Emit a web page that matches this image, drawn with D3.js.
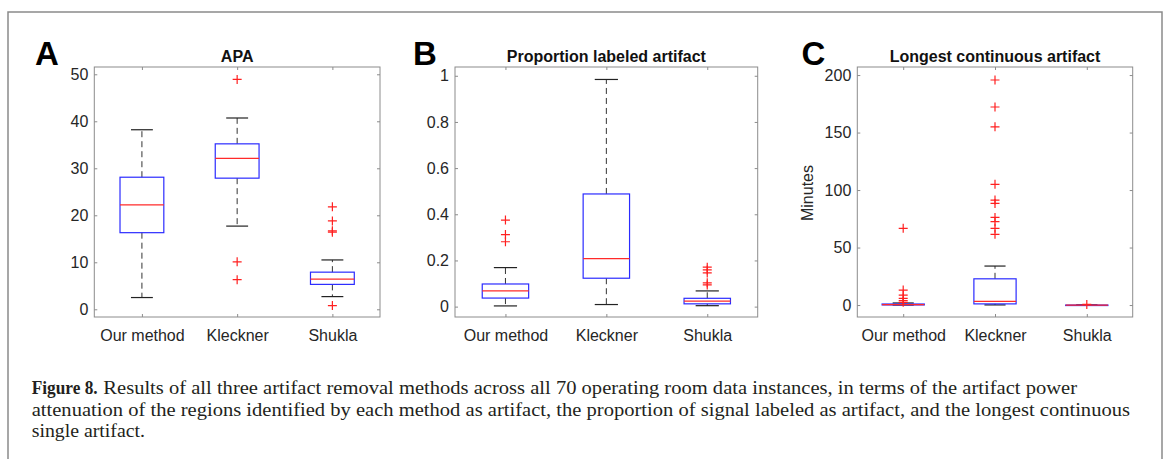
<!DOCTYPE html>
<html>
<head>
<meta charset="utf-8">
<script src="https://cdn.jsdelivr.net/npm/d3@7"></script>
<style>
  body { margin: 0; background: #fff; }
  svg { display: block; }
</style>
</head>
<body>
<script>
// Categories on every panel
const methods = ["Our method", "Kleckner", "Shukla"];

// Box stats per method: [lower whisker, q1, median, q3, upper whisker]
const apaBoxes = [[2.5, 16.3, 22.2, 28.1, 38.2], [17.7, 27.9, 32.1, 35.2, 40.7], [2.7, 5.3, 6.4, 7.9, 10.5]];
const apaOutliers = [[], [48.9, 10.1, 6.3], [21.8, 18.8, 16.7, 16.4, 0.8]];
const apaTicks = [0, 10, 20, 30, 40, 50];

const propBoxes = [[0.003, 0.037, 0.068, 0.098, 0.169], [0.009, 0.123, 0.208, 0.488, 0.984], [0.004, 0.012, 0.024, 0.036, 0.068]];
const propOutliers = [[0.375, 0.312, 0.281], [], [0.171, 0.159, 0.146, 0.103, 0.094]];
const propTicks = [0, 0.2, 0.4, 0.6, 0.8, 1];

const minuteBoxes = [[0, 0.1, 0.4, 0.9, 1.8], [0.1, 1.0, 3.2, 22.8, 33.9], [0, 0, 0, 0, 0]];
const minuteOutliers = [[66.7, 13, 8.7, 5.8, 3.8, 2.4], [195.7, 172.2, 155, 105, 91.3, 88.4, 76.2, 72.5, 66.7, 61.5], [0.5]];
const minuteTicks = [0, 50, 100, 150, 200];

const captionBold = "Figure 8.";
const captionLines = [
    "Results of all three artifact removal methods across all 70 operating room data instances, in terms of the artifact power",
    "attenuation of the regions identified by each method as artifact, the proportion of signal labeled as artifact, and the longest continuous",
    "single artifact."
];

var width = 1170, height = 459;
var axTop = 67, axBottom = 317;
var font = "'Liberation Sans', Arial, sans-serif";

var svg = d3.select("body").append("svg")
    .attr("width", width)
    .attr("height", height);

svg.append("rect").attr("width", width).attr("height", height).style("fill", "#fff");

// outer figure frame (open at the bottom)
svg.append("path")
    .attr("d", "M8," + height + "V12H1162V" + height)
    .style("fill", "none")
    .style("stroke", "#8a8a8a")
    .style("stroke-width", 1.5);

function drawPanel(p) {
    var g = svg.append("g");

    var x = d3.scaleLinear().domain([0.5, 3.5]).range([p.x0, p.x1]);
    var y = d3.scaleLinear().domain(p.yDomain).range([axBottom, axTop]);
    var bw = x(1.23) - x(1);   // half box width
    var cw = bw / 2;           // half cap width

    // axes box
    g.append("rect")
        .attr("x", p.x0).attr("y", axTop)
        .attr("width", p.x1 - p.x0).attr("height", axBottom - axTop)
        .style("fill", "none").style("stroke", "#8c8c8c").style("stroke-width", 1);

    // ticks on all four sides, inward
    g.append("g").attr("transform", "translate(" + p.x0 + ",0)")
        .call(d3.axisLeft(y).tickValues(p.ticks).tickSizeInner(-3).tickSizeOuter(0).tickPadding(6)
            .tickFormat(function(d) { return String(d); }));
    g.append("g").attr("transform", "translate(" + p.x1 + ",0)")
        .call(d3.axisRight(y).tickValues(p.ticks).tickSizeInner(-3).tickSizeOuter(0).tickFormat(""));
    g.append("g").attr("transform", "translate(0," + axBottom + ")")
        .call(d3.axisBottom(x).tickValues([1, 2, 3]).tickSizeInner(-3).tickSizeOuter(0).tickPadding(12.5)
            .tickFormat(function(d) { return methods[d - 1]; }));
    g.append("g").attr("transform", "translate(0," + axTop + ")")
        .call(d3.axisTop(x).tickValues([1, 2, 3]).tickSizeInner(-3).tickSizeOuter(0).tickFormat(""));

    g.selectAll(".domain").remove();
    g.selectAll(".tick line").style("stroke", "#8c8c8c");
    g.selectAll(".tick text").style("font", "16px " + font).style("fill", "#262626");

    // boxes
    p.boxes.forEach(function(b, i) {
        var cx = x(i + 1);
        // dashed whiskers
        g.append("line").attr("x1", cx).attr("x2", cx).attr("y1", y(b[3])).attr("y2", y(b[4]))
            .style("stroke", "#333").style("stroke-dasharray", "6,4");
        g.append("line").attr("x1", cx).attr("x2", cx).attr("y1", y(b[1])).attr("y2", y(b[0]))
            .style("stroke", "#333").style("stroke-dasharray", "6,4");
        // caps
        [b[0], b[4]].forEach(function(v) {
            g.append("line").attr("x1", cx - cw).attr("x2", cx + cw).attr("y1", y(v)).attr("y2", y(v))
                .style("stroke", "#222").style("stroke-width", 1.2);
        });
        // box
        g.append("rect")
            .attr("x", cx - bw).attr("width", 2 * bw)
            .attr("y", y(b[3])).attr("height", Math.max(y(b[1]) - y(b[3]), 0.5))
            .style("fill", "none").style("stroke", "#2b2bff").style("stroke-width", 1.2);
        // median
        g.append("line").attr("x1", cx - bw).attr("x2", cx + bw).attr("y1", y(b[2])).attr("y2", y(b[2]))
            .style("stroke", "#ff2a2a").style("stroke-width", 1.2);
    });

    // outliers as red plus signs
    p.outliers.forEach(function(list, i) {
        g.selectAll(null).data(list).enter().append("path")
            .attr("transform", function(d) { return "translate(" + x(i + 1) + "," + y(d) + ")"; })
            .attr("d", "M-4.5,0H4.5M0,-4.5V4.5")
            .style("stroke", "#ff2020").style("stroke-width", 1.2).style("fill", "none");
    });

    // panel title
    g.append("text")
        .attr("x", (p.x0 + p.x1) / 2).attr("y", 61.5)
        .style("text-anchor", "middle")
        .style("font", "bold 16px " + font).style("fill", "#111")
        .text(p.title);

    // panel letter
    g.append("text")
        .attr("x", p.letterX).attr("y", 64.5)
        .style("font", "bold 33px " + font).style("fill", "#000")
        .text(p.letter);

    if (p.ylabel) {
        g.append("text")
            .attr("transform", "translate(813,193) rotate(-90)")
            .style("text-anchor", "middle")
            .style("font", "16px " + font).style("fill", "#262626")
            .text(p.ylabel);
    }
}

drawPanel({letter: "A", letterX: 35, title: "APA", x0: 94.3, x1: 380,
    yDomain: [-1.64, 51.55], ticks: apaTicks, boxes: apaBoxes, outliers: apaOutliers});
drawPanel({letter: "B", letterX: 413, title: "Proportion labeled artifact", x0: 455, x1: 757.7,
    yDomain: [-0.045, 1.038], ticks: propTicks, boxes: propBoxes, outliers: propOutliers});
drawPanel({letter: "C", letterX: 801.5, title: "Longest continuous artifact", x0: 857.3, x1: 1132.7,
    yDomain: [-10.4, 207], ticks: minuteTicks, boxes: minuteBoxes, outliers: minuteOutliers, ylabel: "Minutes"});

// caption
var serif = "'Liberation Serif', 'Times New Roman', serif";
svg.append("text")
    .attr("x", 31.7).attr("y", 394)
    .attr("textLength", 66).attr("lengthAdjust", "spacingAndGlyphs")
    .style("font", "bold 18px " + serif).style("fill", "#231f20")
    .text(captionBold);

var capStart = [103.3, 31.7, 31.7];
var capEnd = [1077, 1130, 145];
var capY = [394, 415.5, 437];
captionLines.forEach(function(line, i) {
    svg.append("text")
        .attr("x", capStart[i]).attr("y", capY[i])
        .attr("textLength", capEnd[i] - capStart[i]).attr("lengthAdjust", "spacingAndGlyphs")
        .style("font", "18px " + serif).style("fill", "#231f20")
        .text(line);
});
</script>
</body>
</html>
